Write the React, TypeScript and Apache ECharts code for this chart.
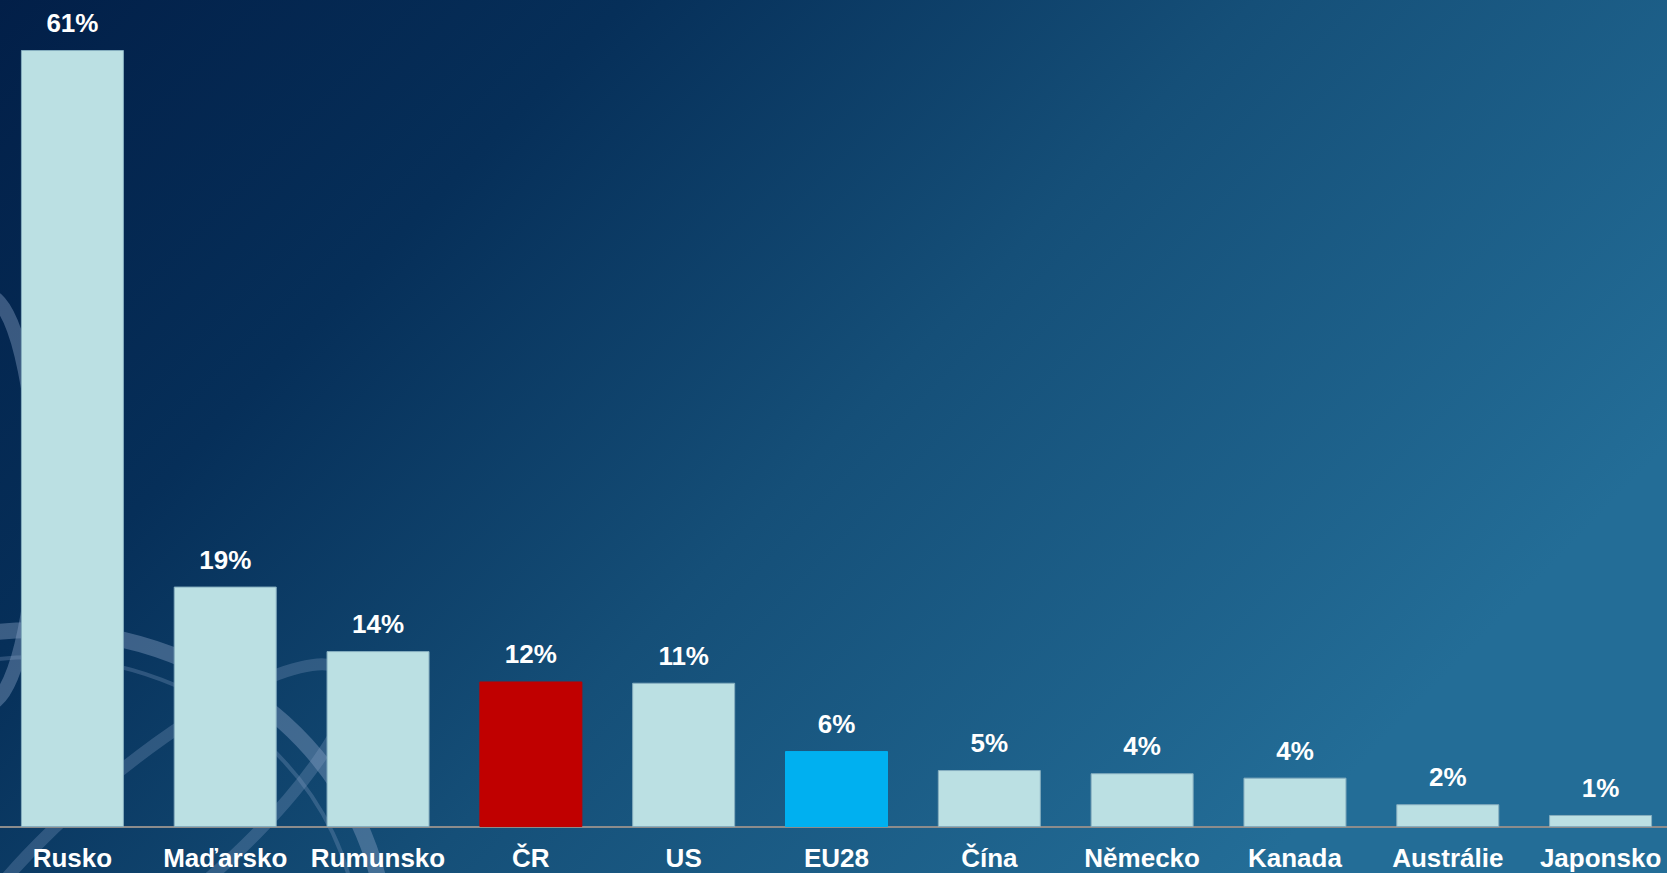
import React, { useEffect, useRef } from "react";
import * as echarts from "echarts";

const categories = ["Rusko", "Maďarsko", "Rumunsko", "ČR", "US", "EU28", "Čína", "Německo", "Kanada", "Austrálie", "Japonsko"];
const values = [61.4, 19.0, 13.9, 11.5, 11.4, 6.0, 4.5, 4.25, 3.9, 1.8, 0.95];
const barColors = ["#bbe0e3", "#bbe0e3", "#bbe0e3", "#c00000", "#bbe0e3", "#00b0f0", "#bbe0e3", "#bbe0e3", "#bbe0e3", "#bbe0e3", "#bbe0e3"];
const borderColors = ["#86aebf", "#86aebf", "#86aebf", "#c00000", "#86aebf", "#00b0f0", "#86aebf", "#86aebf", "#86aebf", "#86aebf", "#86aebf"];

export default function App() {
  const ref = useRef<HTMLDivElement>(null);
  useEffect(() => {
    if (!ref.current) return;
    const chart = echarts.init(ref.current, null, { renderer: "svg" });
    const ringColor = "rgba(140,165,200,0.4)";
    chart.setOption({
      animation: false,
      backgroundColor: new echarts.graphic.LinearGradient(0, 0, 1, 0.5, [
        { offset: 0, color: "#021f48" },
        { offset: 0.3, color: "#062f59" },
        { offset: 0.6, color: "#154f78" },
        { offset: 1, color: "#236d97" },
      ]),
      graphic: [
        { type: "ellipse", z: -10, shape: { cx: 40, cy: 945, rx: 350, ry: 315 }, style: { fill: "none", stroke: ringColor, lineWidth: 16 } },
        { type: "ellipse", z: -10, shape: { cx: 40, cy: 945, rx: 322, ry: 288 }, style: { fill: "none", stroke: "rgba(140,165,200,0.28)", lineWidth: 4 } },
        { type: "ellipse", z: -10, shape: { cx: -10, cy: 500, rx: 50, ry: 205 }, style: { fill: "none", stroke: ringColor, lineWidth: 14 } },
        { type: "ellipse", z: -10, x: 150, y: 840, rotation: Math.PI / 4.5, shape: { cx: 0, cy: 0, rx: 260, ry: 70 }, style: { fill: "none", stroke: "rgba(140,165,200,0.28)", lineWidth: 12 } },
      ],
      grid: { left: 0, right: 0, top: 7, bottom: 46, containLabel: false },
      xAxis: {
        type: "category",
        data: categories,
        axisLine: { show: true, lineStyle: { color: "#8c8c8c", width: 2 } },
        axisTick: { show: false },
        axisLabel: {
          interval: 0,
          margin: 18,
          color: "#ffffff",
          fontFamily: "Liberation Sans, Arial, sans-serif",
          fontWeight: "bold",
          fontSize: 26,
        },
      },
      yAxis: {
        type: "value",
        min: 0,
        max: 64.8,
        show: false,
        splitLine: { show: false },
      },
      series: [
        {
          type: "bar",
          barWidth: 103,
          data: values.map((v, i) => ({
            value: v,
            itemStyle: { color: barColors[i], borderColor: borderColors[i], borderWidth: 1 },
          })),
          label: {
            show: true,
            position: "top",
            distance: 14,
            color: "#ffffff",
            fontFamily: "Liberation Sans, Arial, sans-serif",
            fontWeight: "bold",
            fontSize: 26,
            formatter: (p: any) => Math.round(p.value) + "%",
          },
        },
      ],
    });
    return () => chart.dispose();
  }, []);
  return <div ref={ref} style={{ position: "fixed", left: -3.9, top: 0, width: 1680.8, height: 873 }} />;
}
